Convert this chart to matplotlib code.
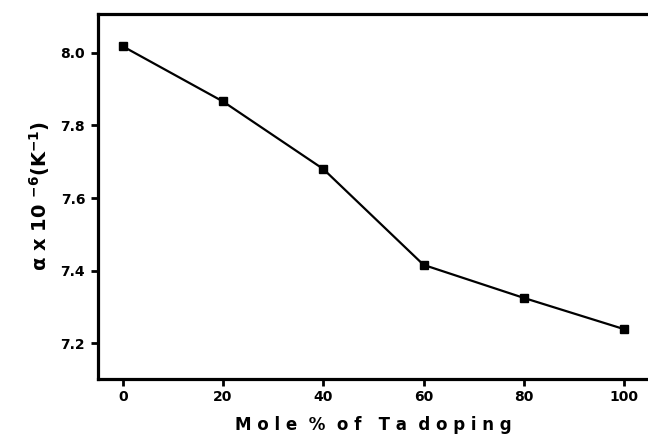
import numpy as np
import matplotlib
matplotlib.use("Agg")
import matplotlib.pyplot as plt

# Ta doping (mol %) vs thermal expansion coefficient
ta_mole = [0, 20, 40, 60, 80, 100]
alpha = [8.018, 7.866, 7.680, 7.416, 7.325, 7.239]

plt.rcParams['font.family'] = ['DejaVu Sans']
plt.rcParams['font.weight'] = 'bold'
plt.rcParams['mathtext.default'] = 'bf'

fig = plt.figure(figsize=(6.48, 4.36), dpi=100)
ax = fig.add_axes([0.1508, 0.1314, 0.8495, 0.8365])

ax.plot(ta_mole, alpha, 'ks-', lw=1.6, ms=6)

ax.set_xlim(-4.99, 104.8)
ax.set_ylim(7.1025, 8.107)
ax.set_xticks([0, 20, 40, 60, 80, 100])
ax.set_yticks([7.2, 7.4, 7.6, 7.8, 8.0])
ax.set_yticklabels(['7.2', '7.4', '7.6', '7.8', '8.0'])

for side in ['left', 'top', 'bottom']:
    ax.spines[side].set_linewidth(2.3)
ax.spines['right'].set_visible(False)

ax.tick_params(direction='out', length=5, width=2, labelsize=10, pad=4)
ax.tick_params(axis='x', pad=3)
for lab in ax.get_xticklabels() + ax.get_yticklabels():
    lab.set_fontweight('heavy')

ax.set_xlabel('M o l e  %  o f   T a  d o p i n g', fontsize=12, fontweight='heavy', labelpad=9)
ax.set_ylabel(r'$\alpha$ x 10 $^{-6}$(K$^{-1}$)', fontsize=14, fontweight='heavy', labelpad=6)

fig.savefig('out.png', dpi=100)
